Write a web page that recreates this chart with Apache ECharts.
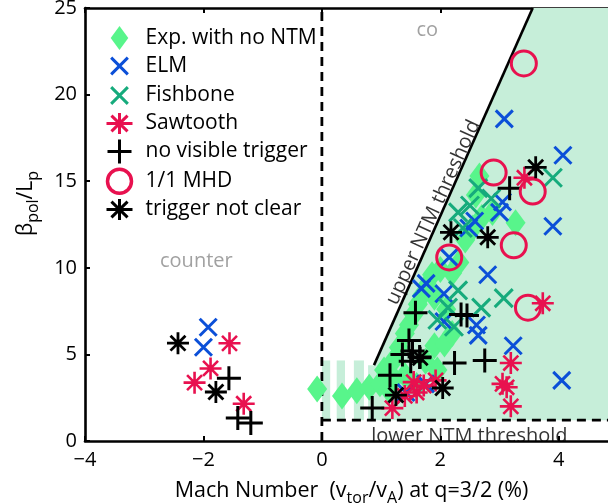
<!DOCTYPE html>
<html>
<head>
<meta charset="utf-8">
<script src="https://cdn.jsdelivr.net/npm/echarts@6/dist/echarts.min.js"></script>
<style>
  html, body { margin: 0; padding: 0; background: #fff; }
  #chart { width: 608px; height: 504px; }
</style>
</head>
<body>
<div id="chart"></div>
<script>
// ---- axis ranges ----
const xRange = { min: -4, max: 5, step: 2 };
const yRange = { min: 0, max: 25, step: 5 };

// ---- thresholds ----
const upperThreshold = [[0.88, 4.38], [3.56, 25]];
const lowerThresholdY = 1.2;
const shadePolygon = [[0.88, 4.38], [3.56, 25], [5, 25], [5, 1.2], [0.78, 1.2], [0.78, 4.38]];
const shadeStripes = [[0, 0.14], [0.25, 0.39], [0.54, 0.71]];
const stripeTopY = 4.65;

// ---- measurements: [Mach number (%), beta_pol / L_p] ----
const noNtm = [
  [-0.08, 3.0], [0.34, 2.6], [0.59, 2.9], [0.8, 3.1], [0.98, 3.3], [1.12, 3.0], [1.22, 3.6],
  [1.05, 4.1], [1.2, 4.6], [1.3, 5.4], [1.4, 6.2], [1.47, 6.7], [1.55, 7.3], [1.62, 7.9],
  [1.69, 8.4], [1.78, 9.0], [1.86, 9.6], [2.0, 9.9], [2.2, 9.7], [2.32, 10.3], [2.42, 11.6],
  [2.55, 12.3], [2.7, 12.9], [2.88, 13.2], [2.6, 14.2], [2.66, 15.3], [3.27, 12.6], [1.9, 5.5],
  [2.07, 5.6], [1.75, 4.6], [1.6, 3.2], [1.4, 3.8], [1.95, 4.1], [2.2, 6.2], [2.1, 7.6], [1.9, 8.3]
];
const elm = [
  [-1.92, 6.57], [-2.0, 5.41], [3.08, 18.6], [4.07, 16.5], [3.9, 12.4], [3.05, 13.8], [3.0, 13.2],
  [2.58, 12.7], [2.48, 12.3], [2.15, 10.6], [2.8, 9.6], [1.76, 9.1], [2.06, 8.5], [1.68, 8.8],
  [2.06, 6.9], [2.61, 6.7], [2.64, 6.1], [3.23, 5.5], [4.05, 3.5], [1.42, 2.8], [1.75, 3.3]
];
const fishbone = [
  [3.9, 15.2], [2.64, 14.6], [2.86, 14.0], [2.3, 13.2], [2.38, 12.3], [2.3, 8.7], [3.07, 8.25],
  [2.69, 7.7], [2.13, 7.7], [2.23, 6.6], [2.5, 13.6], [1.95, 7.0]
];
const sawtooth = [
  [-1.56, 5.64], [-1.88, 4.19], [-2.15, 3.37], [-1.32, 2.15], [3.42, 15.2], [3.73, 7.95],
  [3.19, 4.5], [3.05, 3.3], [3.12, 3.1], [3.19, 2.0], [1.19, 1.9], [1.6, 2.8], [1.72, 3.2],
  [1.92, 3.5], [1.55, 3.4], [1.4, 2.6]
];
const noTrigger = [
  [-1.57, 3.63], [-1.42, 1.33], [-1.2, 1.04], [3.17, 14.6], [1.58, 7.4], [2.35, 7.3], [2.45, 7.25],
  [1.47, 5.8], [1.53, 5.2], [1.36, 5.0], [1.65, 4.85], [2.24, 4.5], [2.75, 4.65], [1.15, 3.8],
  [0.85, 1.9], [1.5, 4.6]
];
const mhd = [[3.41, 21.8], [2.9, 15.5], [3.56, 14.4], [2.15, 10.6], [3.24, 11.3], [3.48, 7.7]];
const notClear = [
  [-2.43, 5.65], [-1.79, 2.83], [3.61, 15.8], [2.18, 12.05], [2.8, 11.76], [2.04, 3.06],
  [1.25, 2.65], [1.66, 4.8]
];

// ---- text annotations ----
const annotations = [
  { text: 'co', at: [1.78, 23.7], color: '#8a8a8a', rotate: 0 },
  { text: 'counter', at: [-2.12, 10.35], color: '#8a8a8a', rotate: 0 },
  { text: 'upper NTM threshold', at: [1.88, 13.2], color: '#000', rotate: 65.5 },
  { text: 'lower NTM threshold', at: [2.49, 0.25], color: '#000', rotate: 0 }
];

// ---- styling ----
const FONT = 'Open Sans';
const SHADE = '#c6eed9';
const C_GREEN = '#58f58b';
const C_BLUE = '#0b4fd8';
const C_TEAL = '#16ab7c';
const C_RED = '#e8114f';
const C_BLACK = '#000';

const P_CROSS = 'path://M0,0L10,10M10,0L0,10';
const P_PLUS = 'path://M5,0L5,10M0,5L10,5';
const P_STAR = 'path://M5,0L5,10M0,5L10,5M1.6,1.6L8.4,8.4M8.4,1.6L1.6,8.4';
// legend icons carry invisible corner points so the glyph sits smaller inside the box
const L_DIAMOND = 'path://M11,0L22,15L11,30L0,15Z';
const L_CROSS = 'path://M-2.2,-2.2L-2.2,-2.2M12.2,12.2L12.2,12.2M0,0L10,10M10,0L0,10';
const L_PLUS = 'path://M5,0L5,10M0,5L10,5';
const L_STAR = 'path://M5,1L5,9M0,5L10,5M1.9,2L8.1,8M8.1,2L1.9,8';

const minus = v => (v < 0 ? '\u2212' + Math.abs(v) : String(v));

function strokeSeries(name, data, symbol, size, color, width, z) {
  return {
    name, type: 'scatter', data, symbol, symbolSize: size, z,
    itemStyle: { color: 'transparent', borderColor: color, borderWidth: width, opacity: 1 },
    emphasis: { disabled: true }, silent: true
  };
}

const chart = echarts.init(document.getElementById('chart'), null, { renderer: 'canvas' });

const axisCommon = {
  type: 'value',
  splitLine: { show: false },
  axisLine: { show: true, onZero: false, lineStyle: { color: '#000', width: 2.6 } },
  axisTick: { show: true, inside: true, length: 5, lineStyle: { color: '#000', width: 2 } }
};

chart.setOption({
  animation: false,
  backgroundColor: '#fff',
  textStyle: { fontFamily: FONT },
  grid: { left: 85, top: 8, width: 533, height: 433, containLabel: false, outerBoundsMode: 'none' },
  xAxis: [
    Object.assign({}, axisCommon, {
      position: 'bottom', min: xRange.min, max: xRange.max, interval: xRange.step,
      axisLabel: { fontSize: 20, color: '#000', margin: 9, fontFamily: FONT, formatter: minus,
        showMaxLabel: false },
      name: 'Mach Number  (v{sub|tor}/v{sub|A}) at q=3/2 (%)',
      nameLocation: 'middle', nameGap: 35,
      nameTextStyle: {
        fontSize: 21.5, color: '#000', fontFamily: FONT,
        rich: { sub: { fontSize: 16, fontFamily: FONT, color: '#000', padding: [14, 0, 0, 0] } }
      }
    }),
    Object.assign({}, axisCommon, {
      position: 'top', min: xRange.min, max: xRange.max, interval: xRange.step,
      axisLabel: { show: false }
    })
  ],
  yAxis: [
    Object.assign({}, axisCommon, {
      position: 'left', min: yRange.min, max: yRange.max, interval: yRange.step,
      axisLabel: { fontSize: 20, color: '#000', margin: 8, fontFamily: FONT },
      name: '{gap|\u00a0}\u03b2{sub|pol}/L{sub|p}',
      nameLocation: 'middle', nameGap: 44, nameRotate: 90,
      nameTextStyle: {
        fontSize: 21, color: '#000', fontFamily: FONT,
        rich: {
          sub: { fontSize: 16, fontFamily: FONT, color: '#000', padding: [14, 0, 0, 0] },
          gap: { width: 42, fontSize: 16 }
        }
      }
    })
  ],
  legend: {
    orient: 'vertical', left: 105, top: 26, padding: 0,
    itemWidth: 26, itemHeight: 24, itemGap: 2.5,
    selectedMode: false,
    textStyle: { fontSize: 21, lineHeight: 24, color: '#000', fontFamily: FONT, padding: [0, 0, 0, 8] },
    data: [
      { name: 'Exp. with no NTM', icon: L_DIAMOND, itemStyle: { color: C_GREEN, borderWidth: 0 } },
      { name: 'ELM', icon: L_CROSS, itemStyle: { color: 'transparent', borderColor: C_BLUE, borderWidth: 3 } },
      { name: 'Fishbone', icon: L_CROSS, itemStyle: { color: 'transparent', borderColor: C_TEAL, borderWidth: 3 } },
      { name: 'Sawtooth', icon: L_STAR, itemStyle: { color: 'transparent', borderColor: C_RED, borderWidth: 3 } },
      { name: 'no visible trigger', icon: L_PLUS, itemStyle: { color: 'transparent', borderColor: C_BLACK, borderWidth: 3 } },
      { name: '1/1 MHD', icon: 'circle', itemStyle: { color: 'transparent', borderColor: C_RED, borderWidth: 3.5 } },
      { name: 'trigger not clear', icon: L_STAR, itemStyle: { color: 'transparent', borderColor: C_BLACK, borderWidth: 3 } }
    ]
  },
  series: [
    {
      type: 'custom', name: 'shade', silent: true, z: 1, data: [[0, 0]],
      renderItem: (params, api) => ({
        type: 'polygon',
        shape: { points: shadePolygon.map(p => api.coord(p)) },
        style: { fill: SHADE }
      })
    },
    {
      type: 'custom', name: 'stripes', silent: true, z: 1, data: shadeStripes,
      renderItem: (params, api) => {
        const a = api.coord([api.value(0), stripeTopY]);
        const b = api.coord([api.value(1), lowerThresholdY]);
        return { type: 'rect', shape: { x: a[0], y: a[1], width: b[0] - a[0], height: b[1] - a[1] },
          style: { fill: SHADE } };
      }
    },
    {
      type: 'line', name: 'upper', data: upperThreshold, symbol: 'none', silent: true, z: 2,
      lineStyle: { color: '#000', width: 2.6 }
    },
    {
      type: 'line', name: 'lower', data: [[0, lowerThresholdY], [xRange.max, lowerThresholdY]],
      symbol: 'none', silent: true, z: 2,
      lineStyle: { color: '#000', width: 2.8, type: [9, 6] }
    },
    {
      type: 'line', name: 'zero', data: [[0, yRange.min], [0, yRange.max]],
      symbol: 'none', silent: true, z: 2,
      lineStyle: { color: '#000', width: 2.8, type: [9, 6] }
    },
    {
      name: 'Exp. with no NTM', type: 'scatter', data: noNtm, symbol: 'diamond', symbolSize: [20, 27],
      z: 3, itemStyle: { color: C_GREEN, opacity: 1 }, silent: true
    },
    strokeSeries('ELM', elm, P_CROSS, 17, C_BLUE, 3, 4),
    strokeSeries('Fishbone', fishbone, P_CROSS, 18, C_TEAL, 3, 4),
    strokeSeries('Sawtooth', sawtooth, P_STAR, 22, C_RED, 2.6, 5),
    strokeSeries('no visible trigger', noTrigger, P_PLUS, 24, C_BLACK, 3, 5),
    strokeSeries('1/1 MHD', mhd, 'circle', 25, C_RED, 3, 5),
    strokeSeries('trigger not clear', notClear, P_STAR, 22, C_BLACK, 2.8, 6),
    {
      type: 'scatter', name: 'notes', symbolSize: 0, silent: true, z: 7,
      data: annotations.map(a => ({
        value: a.at,
        label: { show: true, position: 'inside', formatter: a.text, rotate: a.rotate,
          fontSize: 20, color: a.color, fontFamily: FONT }
      }))
    }
  ]
});
</script>
</body>
</html>
